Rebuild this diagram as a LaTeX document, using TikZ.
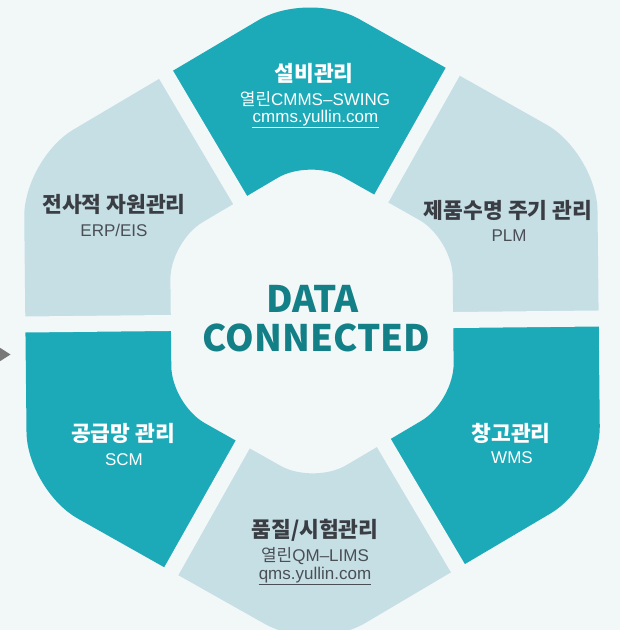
\documentclass[tikz,border=0pt]{standalone}
\usepackage{fontspec}
\newfontfamily\kr{Noto Sans CJK KR}
\newfontfamily\lat{Liberation Sans}
\definecolor{bg}{RGB}{242,247,248}
\definecolor{segteal}{RGB}{29,170,184}
\definecolor{seglight}{RGB}{197,223,229}
\definecolor{titleteal}{RGB}{19,127,135}
\definecolor{darktxt}{RGB}{58,62,68}
\definecolor{subtxt}{RGB}{74,79,85}
\definecolor{arrowgray}{RGB}{120,120,120}
\tikzset{
  ttl/.style={font=\kr\bfseries\fontsize{21.5}{21.5}\selectfont, anchor=base, inner sep=0pt},
  sub/.style={font=\lat\fontsize{17}{17}\selectfont, anchor=base, inner sep=0pt},
  big/.style={font=\kr\bfseries\fontsize{36.5}{36.5}\selectfont, anchor=base, inner sep=0pt, text=titleteal},
  ondark/.style={text=white},
  onlight/.style={text=darktxt},
  sublight/.style={text=subtxt},
  gapline/.style={draw=bg, line width=16pt},
}
\begin{document}
\begin{tikzpicture}[x=1pt,y=1pt]
\fill[bg] (0,0) rectangle (620,630);
\useasboundingbox (0,0) rectangle (620,630);
\begin{scope}[shift={(312,308.5)}, rotate=0.6]
\foreach \a/\c in {90/segteal,150/seglight,210/segteal,270/seglight,330/segteal,30/seglight} {
  \begin{scope}
    \clip (0,0) -- ({\a-30}:600) -- (\a:600) -- ({\a+30}:600) -- cycle;
    \fill[\c, even odd rule] [rounded corners=58pt] (0:286.7) -- (30:331) -- (90:331) -- (150:331) -- (210:331) -- (270:331) -- (330:331) -- cycle
      [rounded corners=38pt] (0:141.2) -- (30:163) -- (90:163) -- (150:163) -- (210:163) -- (270:163) -- (330:163) -- cycle;
  \end{scope}
}
\foreach \a in {0,60,...,300} \draw[gapline] (\a:100) -- (\a:400);
\end{scope}
\fill[arrowgray] (-2,283.5) -- (10.5,275.5) -- (-2,267.5) -- cycle;

\node[big] (data) at (312.5,317) {DATA};
\node[big] (conn) at (316.5,278) {CONNECTED};

\node[ttl, ondark] (t1) at (314,548) {설비관리};
\node[sub, ondark] (s1) at (315,524) {{\kr 열린}CMMS–SWING};
\node[sub, ondark] (u1) at (315.5,507) {cmms.yullin.com};
\draw[white, line width=0.8pt] ([yshift=-4pt]u1.base west) -- ([yshift=-4pt]u1.base east);

\node[ttl, onlight] (t2) at (114,417) {전사적 자원관리};
\node[sub, sublight] (s2) at (114,393) {ERP/EIS};

\node[ttl, onlight] (t3) at (508,411) {제품수명 주기 관리};
\node[sub, sublight] (s3) at (509,388) {PLM};

\node[ttl, ondark] (t4) at (123,188) {공급망 관리};
\node[sub, ondark] (s4) at (124,164) {SCM};

\node[ttl, ondark] (t5) at (511,188) {창고관리};
\node[sub, ondark] (s5) at (512,166) {WMS};

\node[ttl, onlight] (t6) at (315,92) {품질/시험관리};
\node[sub, sublight] (s6) at (315,68) {{\kr 열린}QM–LIMS};
\node[sub, sublight] (u6) at (315,50) {qms.yullin.com};
\draw[subtxt, line width=0.8pt] ([yshift=-4pt]u6.base west) -- ([yshift=-4pt]u6.base east);
\end{tikzpicture}
\end{document}
